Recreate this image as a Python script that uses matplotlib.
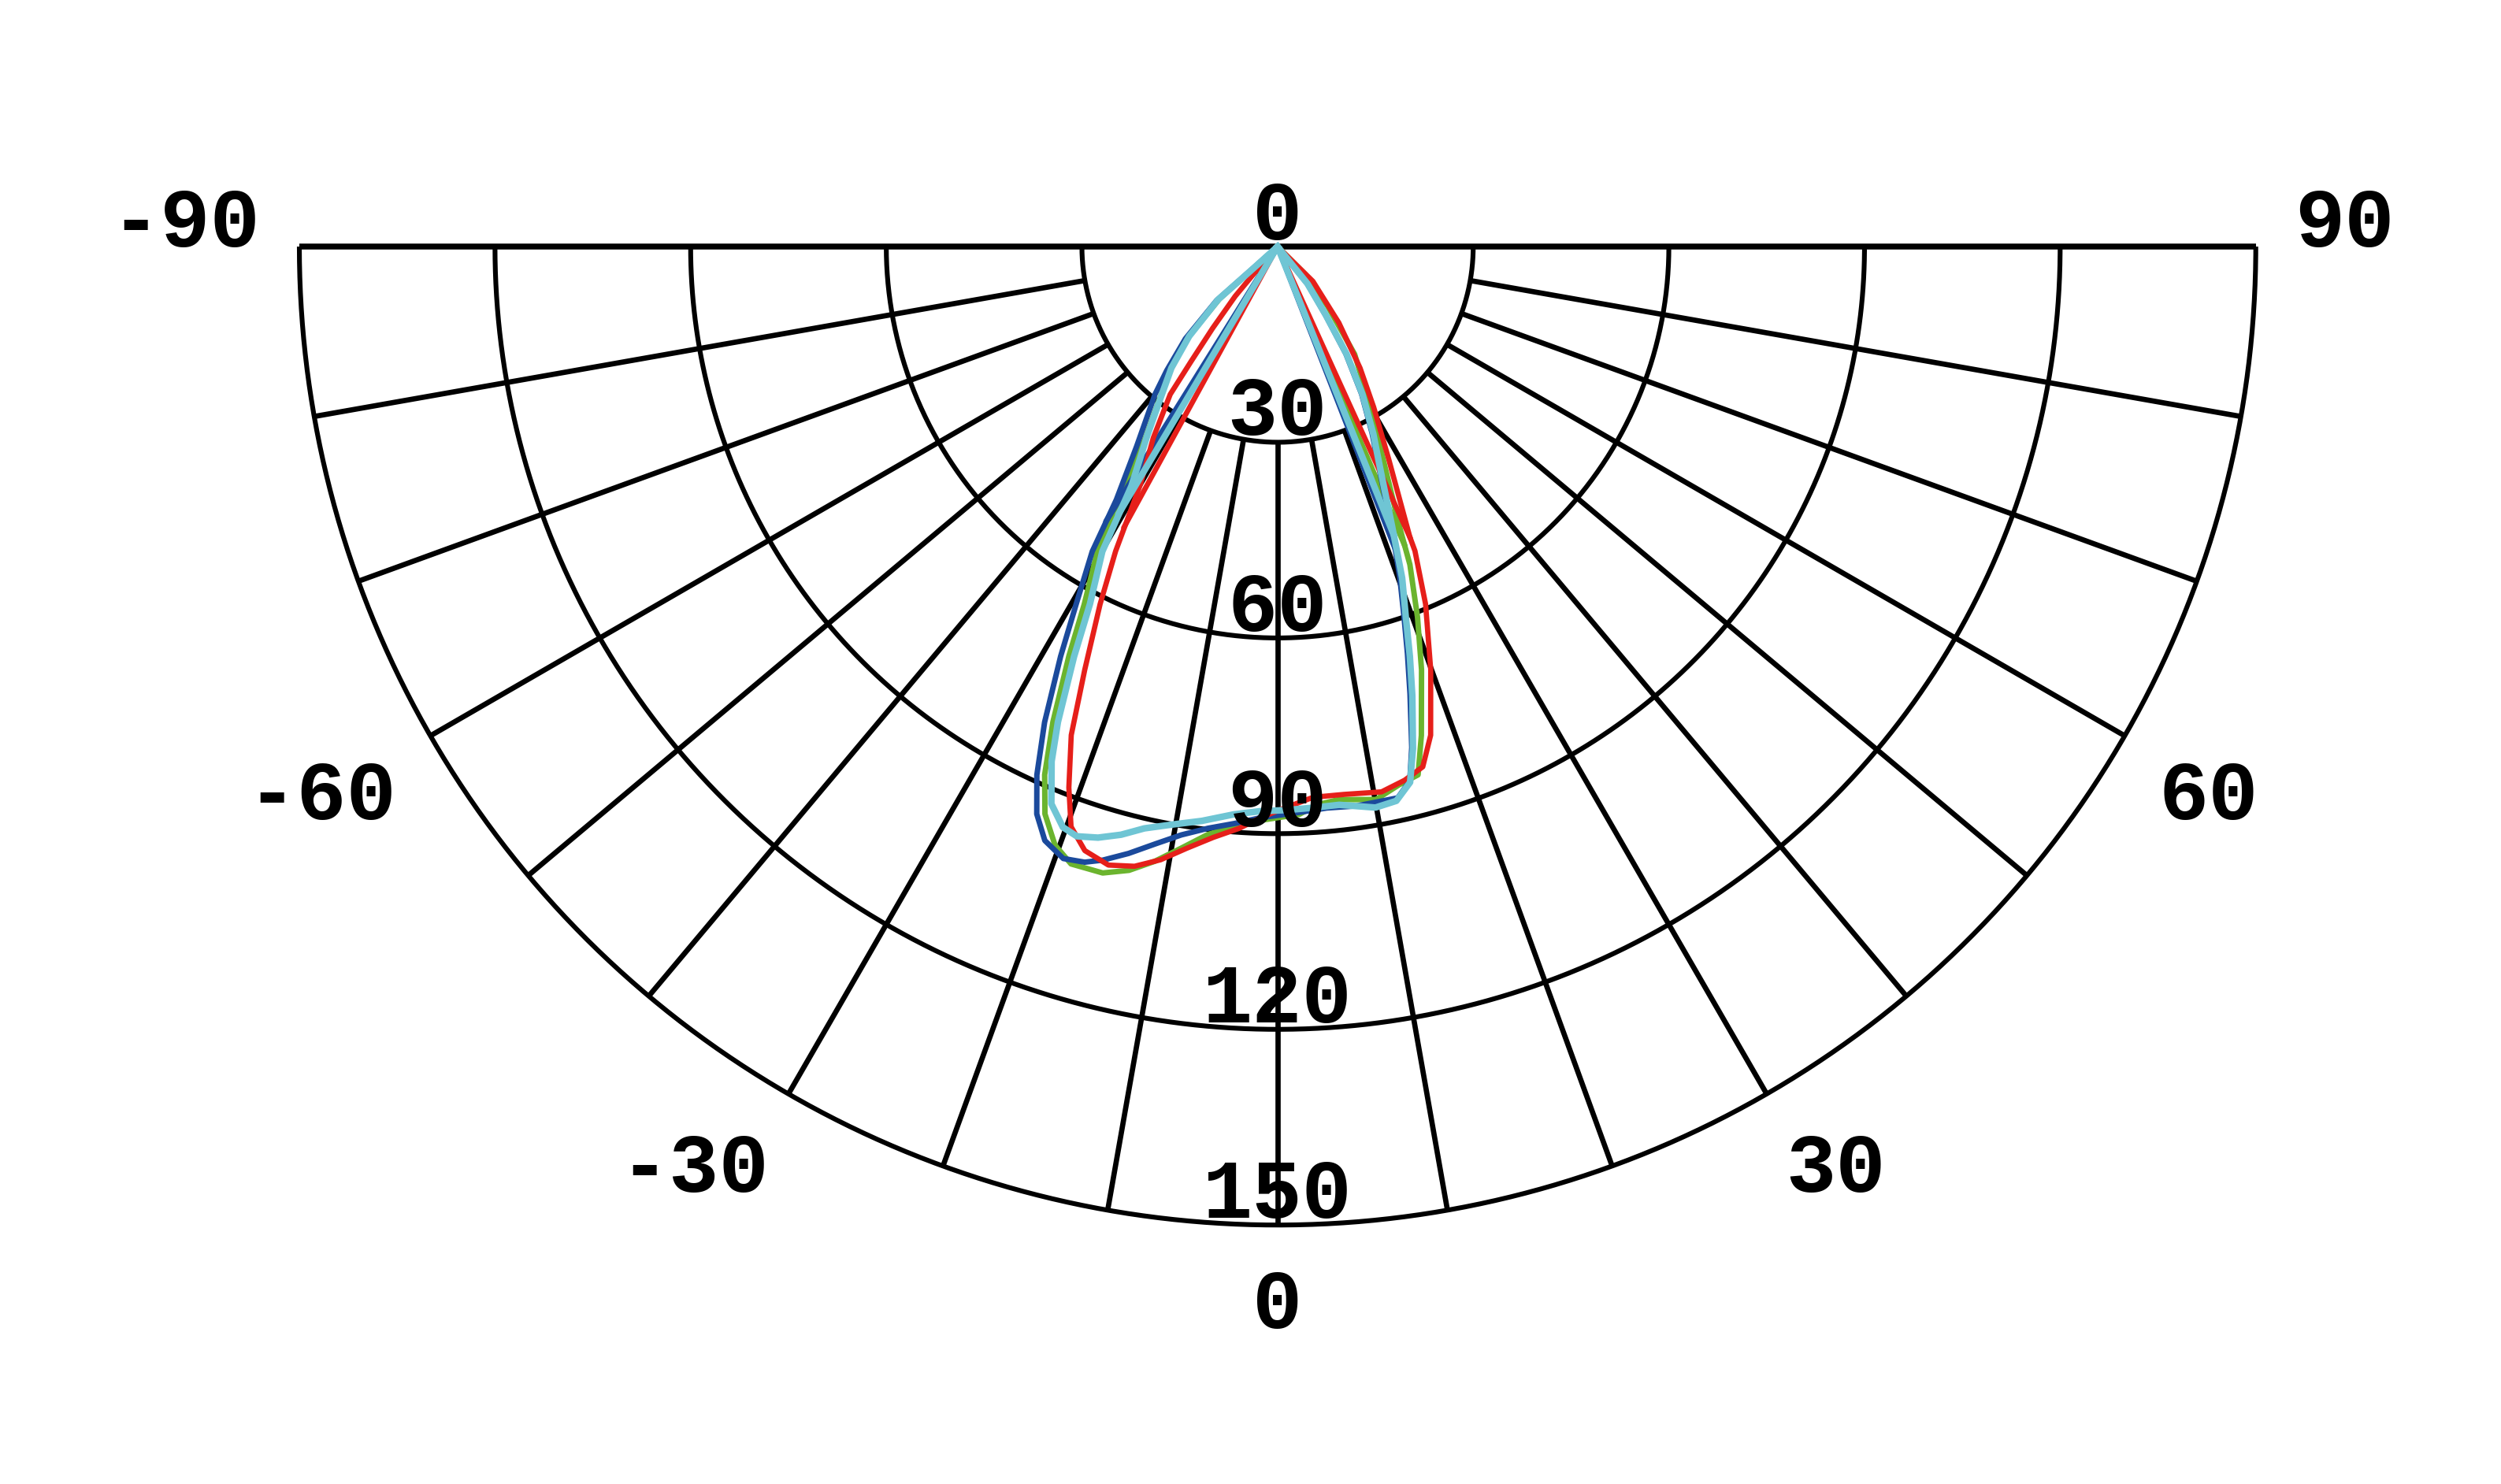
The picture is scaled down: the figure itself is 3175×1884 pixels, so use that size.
import numpy as np
import matplotlib
matplotlib.use("Agg")
import matplotlib.pyplot as plt

# polar intensity curves, gamma angle (deg) / intensity
red_ang = [-40.5, -41, -40.5, -38.5, -37, -36, -33, -30, -28, -26.4, -24.5, -22.9, -21.1,
           -19.6, -17.7, -15.3, -13, -10.8, -8.6, -6.2, -3.8, -1.7, 0.5, 3.7, 6.9, 10.8,
           13.4, 15.6, 17.4, 19.9, 22.5, 24.3, 24.5, 27.6, 30.9, 34.2, 38.8, 45.5, 50]
red_val = [0, 6, 10, 16, 22, 28, 35, 42, 52.9, 61.2, 71.3, 81.3, 88.9,
           94.4, 97.2, 98.3, 97.5, 95.7, 93.3, 91.1, 89.4, 87.6, 86.2, 84.6, 84.6, 85.1,
           84.1, 82.8, 78.5, 69, 59.3, 51.2, 48.9, 36.8, 28.7, 22.5, 15, 7.6, 0]

green_ang = [-49, -48, -48, -44.6, -41, -37.5, -34.5, -32, -30.6, -28.4, -27, -25.3, -23.8,
             -22.3, -20.4, -18.5, -15.6, -13.4, -11.3, -9.1, -6.8, -4.3, -1.7, 2.2, 4, 6.3,
             10.1, 12.7, 14.9, 16.4, 18.8, 20.7, 22.6, 23.5, 25.7, 30.1, 35.6, 40, 45, 48]
green_val = [0, 5, 12, 19.5, 25, 30, 36, 45, 54.3, 62.3, 70.5, 80.6, 88.5,
             94, 97.9, 99.8, 99.7, 98.3, 96.1, 93.4, 90.8, 89.1, 88.0, 87.1, 85.8, 85.3,
             86.1, 84.6, 83.8, 78.1, 68.5, 60.7, 52.8, 47, 38.5, 28.4, 20.3, 12, 6, 0]

blue_ang = [-49, -48.5, -48.5, -45, -41.8, -39.7, -35.2, -32.5, -31.3, -29.4, -27.9, -26.1,
            -24.5, -23, -21.4, -19.3, -17.4, -15.9, -13.8, -11.6, -9.3, -6.8, -4.3, -1.7,
            2.2, 5, 8, 10, 12.3, 13.9, 15, 16.5, 17.7, 18.9, 20.3, 21.2, 22.1, 24.4, 26.9,
            29.7, 32.5, 35, 38.7, 42]
blue_val = [0, 6, 12.5, 20, 25.5, 29.4, 37.5, 46, 54.7, 62.9, 71.1, 81.2,
            89, 94.5, 97.8, 99.4, 98.9, 97.8, 95.8, 93.5, 91.4, 89.8, 88.7, 87.6,
            86.8, 86.4, 86.6, 86.5, 86.5, 84.4, 79.5, 71.5, 65.5, 59.8, 54, 50, 46, 38, 32,
            26, 19.5, 12.8, 7.3, 0]

cyan_ang = [-49, -48, -48.3, -44.6, -41.2, -37.6, -34.6, -31.4, -29.9, -27.7, -26.4, -24.8,
            -23.7, -22.1, -20.3, -18.8, -16.9, -14.9, -12.9, -10.4, -7.5, -4.4, -1.8, 0.9,
            3.6, 6.3, 9.9, 12.1, 13.9, 15.1, 16.7, 17.9, 19.1, 20.6, 21.4, 22.3, 24.6, 27.1,
            29.9, 32.7, 35.2, 38.9, 42]
cyan_val = [0, 5, 12.2, 19.3, 24.7, 29.5, 35.2, 43, 53.9, 61.9, 70.2, 80.3,
            86.2, 92.2, 94.9, 95.5, 94.7, 93.3, 91.5, 90.1, 88.8, 87.3, 86.6, 86.4,
            86.2, 86.1, 87.3, 86.9, 84.6, 79.7, 71.9, 66.0, 60.1, 54.3, 50.2, 46.2, 38.1, 32.2,
            26.1, 19.6, 12.8, 7.3, 0]

ring_values = [0, 30, 60, 90, 120, 150]
ring_labels = ["0", "30", "60", "90", "120", "150"]
spoke_angles = [-80, -70, -60, -50, -40, -30, -20, -10, 0, 10, 20, 30, 40, 50, 60, 70, 80]
angle_ticks = [-90, -60, -30, 0, 30, 60, 90]
angle_labels = ["-90", "-60", "-30", "0", "30", "60", "90"]

series = [
    (green_ang, green_val, "#6bb42e", 5.0),
    (blue_ang, blue_val, "#1b4a9c", 5.0),
    (red_ang, red_val, "#e61f1a", 4.8),
    (cyan_ang, cyan_val, "#6fc5d4", 6.0),
]


def to_xy(ang, r):
    a = np.radians(np.asarray(ang, dtype=float))
    r = np.asarray(r, dtype=float)
    return r * np.sin(a), -r * np.cos(a)


def half_max_edges(ang, val):
    # angles on both sides where the curve crosses half of its peak
    a = np.asarray(ang, dtype=float)
    v = np.asarray(val, dtype=float)
    h = v.max() / 2
    k = int(v.argmax())
    i = np.where(v[:k] < h)[0][-1]
    t = (h - v[i]) / (v[i + 1] - v[i])
    left = a[i] + t * (a[i + 1] - a[i])
    j = k + np.where(v[k:] < h)[0][0]
    t = (h - v[j - 1]) / (v[j] - v[j - 1])
    right = a[j - 1] + t * (a[j] - a[j - 1])
    return left, right, h


fig = plt.figure(figsize=(31.75, 18.84), dpi=100)
ax = fig.add_axes([0, 0, 1, 1])
ax.set_xlim(-195.9, 187.6)
ax.set_ylim(-189.7, 37.8)
ax.axis("off")

R = ring_values[-1]
grid_kw = dict(color="black", solid_capstyle="butt", zorder=1)

# rings
arc = np.linspace(-90, 90, 400)
for r in ring_values[1:]:
    x, y = to_xy(arc, np.full_like(arc, r))
    ax.plot(x, y, lw=4.4, **grid_kw)

# spokes from the 30 ring outwards
for a in spoke_angles:
    x, y = to_xy([a, a], [ring_values[1], R])
    ax.plot(x, y, lw=4.8, **grid_kw)

# top line (-90 .. 90)
x, y = to_xy([-90, 90], [R, R])
ax.plot(x, y, lw=5.4, **grid_kw)

# curves + half-max beam lines
for ang, val, col, lw in series:
    x, y = to_xy(ang, val)
    ax.plot(x, y, color=col, lw=lw, solid_joinstyle="round", zorder=3)
    lo, hi, h = half_max_edges(ang, val)
    for a in (lo, hi):
        bx, by = to_xy([a, a], [0, h])
        ax.plot(bx, by, color=col, lw=lw, solid_capstyle="round", zorder=3)

font = dict(family=["Liberation Mono", "DejaVu Sans Mono"], fontweight="bold",
            fontsize=76, color="black", zorder=4)

for r, lab in zip(ring_values, ring_labels):
    ax.text(0, -r + 1.1, lab, ha="center", va="baseline", **font)

r_lab = 156
for a, lab in zip(angle_ticks, angle_labels):
    lx, ly = to_xy(a, r_lab)
    ha = "right" if a < 0 else ("left" if a > 0 else "center")
    if abs(a) == 90:
        ly = 0.0
    else:
        ly = ly - 9.8
    ax.text(lx, ly, lab, ha=ha, va="baseline", **font)

fig.savefig("out.png", dpi=100, facecolor="white")
